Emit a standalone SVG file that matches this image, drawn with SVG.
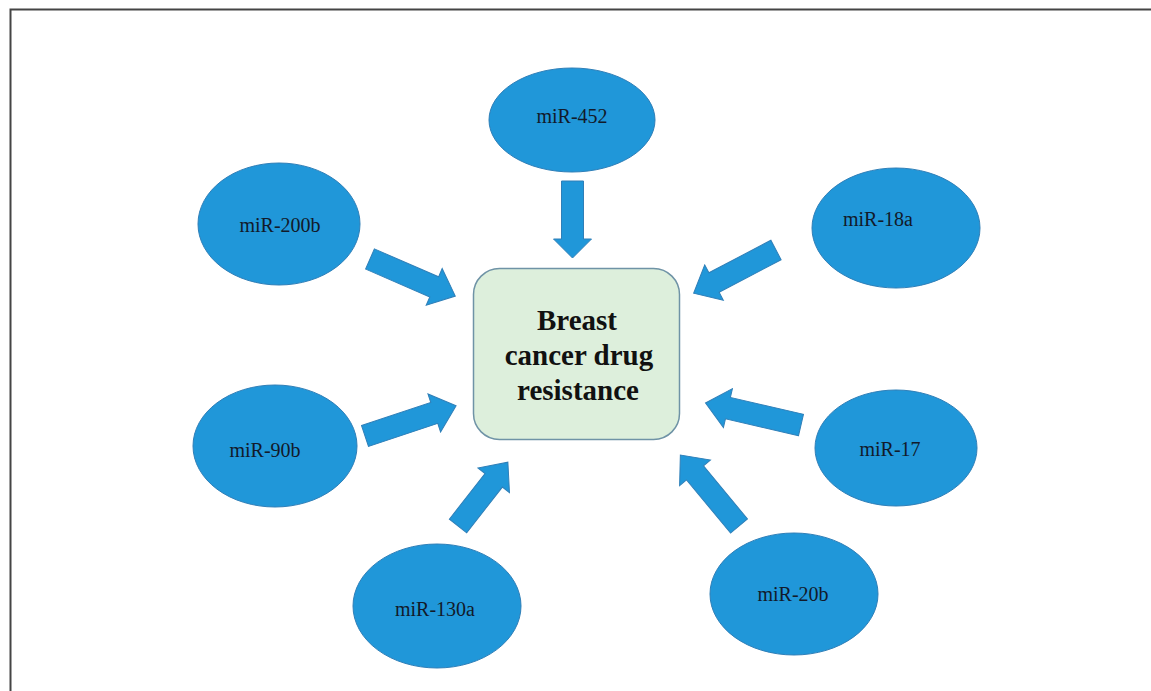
<svg xmlns="http://www.w3.org/2000/svg" width="1151" height="691" viewBox="0 0 1151 691">
<style>
.mir{fill:#2097d9;stroke:#2f7fb8;stroke-width:1}
.lbl{font-family:"Liberation Serif","Times New Roman",serif;font-size:20px;fill:#121a2a;text-anchor:middle}
.arr{fill:#2097d9;stroke:#2f7fb8;stroke-width:1}
.ctr{font-family:"Liberation Serif","Times New Roman",serif;font-size:29px;font-weight:bold;fill:#111;text-anchor:middle}
</style>
<rect x="0" y="0" width="1151" height="691" fill="#fff"/>
<rect x="10.5" y="9.5" width="1160" height="700" fill="none" stroke="#444" stroke-width="2"/>
<g id="connectors">
<path class="arr" transform="translate(572.5,181) rotate(90)" d="M0,-11 H58 V-19 L77,0 L58,19 V11 H0 Z"/>
<path class="arr" transform="translate(370,259) rotate(23.5)" d="M0,-11 H70 V-20 L93,0 L70,20 V11 H0 Z"/>
<path class="arr" transform="translate(776,250) rotate(152.3)" d="M0,-11 H70 V-20 L93,0 L70,20 V11 H0 Z"/>
<path class="arr" transform="translate(365,436) rotate(-18.4)" d="M0,-11 H73 V-20 L96,0 L73,20 V11 H0 Z"/>
<path class="arr" transform="translate(801,425) rotate(193)" d="M0,-11 H75 V-20 L98,0 L75,20 V11 H0 Z"/>
<path class="arr" transform="translate(458,526) rotate(-52)" d="M0,-11 H58 V-20 L81,0 L58,20 V11 H0 Z"/>
<path class="arr" transform="translate(739,526) rotate(230.4)" d="M0,-11 H69 V-20 L92,0 L69,20 V11 H0 Z"/>
</g>
<g id="center">
<rect x="473.5" y="268.5" width="206" height="171" rx="26" ry="26" fill="#ddefdc" stroke="#6f93a6" stroke-width="1.5"/>
<text class="ctr" x="577" y="330">Breast</text>
<text class="ctr" x="579" y="365">cancer drug</text>
<text class="ctr" x="578" y="400">resistance</text>
</g>
<g id="miR-452">
<ellipse class="mir" cx="572" cy="120" rx="83" ry="52"/>
<text class="lbl" x="572" y="123">miR-452</text>
</g>
<g id="miR-200b">
<ellipse class="mir" cx="279" cy="224" rx="81" ry="61"/>
<text class="lbl" x="280" y="232">miR-200b</text>
</g>
<g id="miR-18a">
<ellipse class="mir" cx="896" cy="228" rx="84" ry="60"/>
<text class="lbl" x="878" y="226">miR-18a</text>
</g>
<g id="miR-90b">
<ellipse class="mir" cx="275" cy="446" rx="82" ry="61"/>
<text class="lbl" x="265" y="457">miR-90b</text>
</g>
<g id="miR-17">
<ellipse class="mir" cx="896" cy="448" rx="81" ry="58"/>
<text class="lbl" x="890" y="456">miR-17</text>
</g>
<g id="miR-130a">
<ellipse class="mir" cx="437" cy="606" rx="84" ry="62"/>
<text class="lbl" x="435" y="616">miR-130a</text>
</g>
<g id="miR-20b">
<ellipse class="mir" cx="794" cy="594" rx="84" ry="61"/>
<text class="lbl" x="793" y="601">miR-20b</text>
</g>
</svg>
